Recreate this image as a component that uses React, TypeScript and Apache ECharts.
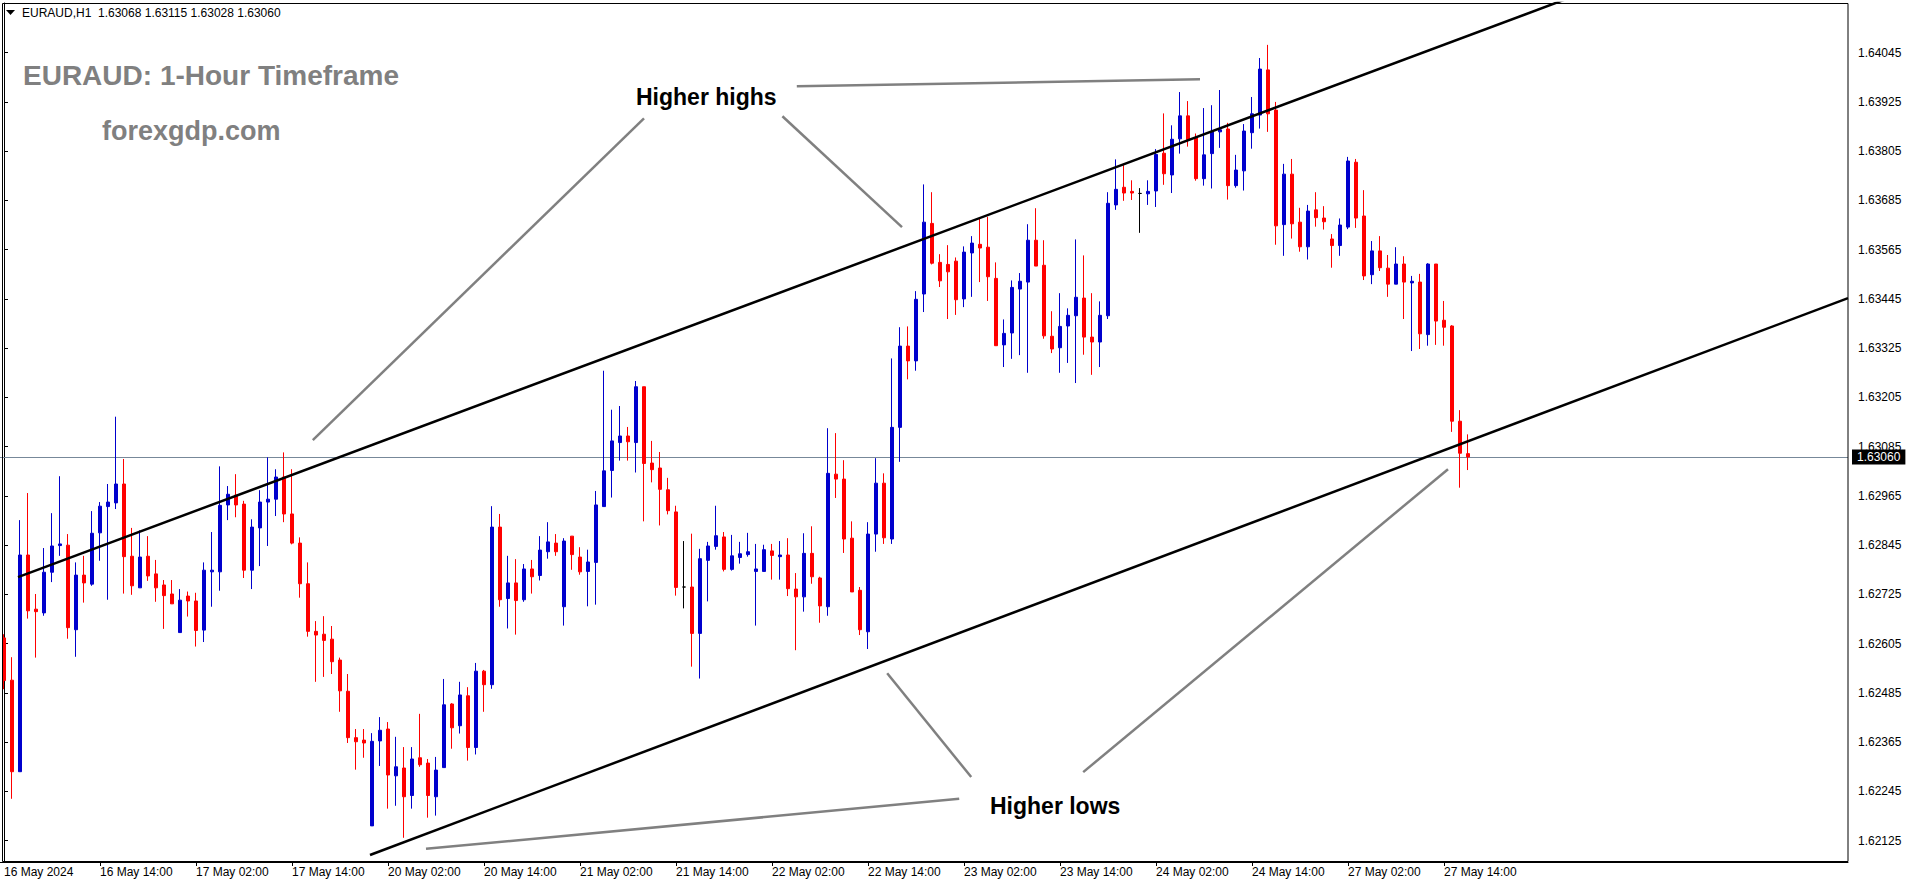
import React, { useEffect, useRef } from "react";
import * as echarts from "echarts";

// EURAUD H1 candles, 16 May 2024 02:00 .. 27 May 2024 17:00
const opens = [
  1.62619, 1.62516, 1.62293, 1.62821, 1.62689, 1.6268, 1.62779, 1.62844, 1.62845, 1.62639,
  1.62772, 1.6275, 1.62875, 1.62939, 1.62948, 1.62994, 1.62818, 1.62741, 1.62818, 1.62775,
  1.62748, 1.62726, 1.62632, 1.62721, 1.62709, 1.62638, 1.6278, 1.6278, 1.62943, 1.62967,
  1.62945, 1.62784, 1.62887, 1.6295, 1.62957, 1.63011, 1.62921, 1.6285, 1.62751, 1.62635,
  1.62628, 1.62616, 1.62565, 1.62489, 1.62376, 1.6237, 1.62161, 1.62368, 1.62397, 1.62283,
  1.62302, 1.62235, 1.62327, 1.62314, 1.62232, 1.62303, 1.62458, 1.62405, 1.62478, 1.62352,
  1.62538, 1.62505, 1.62889, 1.62715, 1.62753, 1.62712, 1.62787, 1.62771, 1.62829, 1.6285,
  1.62695, 1.62867, 1.62816, 1.62781, 1.62803, 1.62939, 1.63027, 1.63095, 1.63111, 1.63095,
  1.63231, 1.63045, 1.63033, 1.6298, 1.62926, 1.62743, 1.62743, 1.6263, 1.62808, 1.62842,
  1.62865, 1.62786, 1.62815, 1.62822, 1.62781, 1.62781, 1.62831, 1.62817, 1.62821, 1.62738,
  1.62719, 1.62825, 1.62765, 1.62695, 1.63018, 1.63006, 1.62862, 1.62735, 1.62634, 1.62872,
  1.62996, 1.6286, 1.63132, 1.6333, 1.63294, 1.63457, 1.63629, 1.63534, 1.63529, 1.63537,
  1.63445, 1.63557, 1.63578, 1.63571, 1.63495, 1.63333, 1.63362, 1.63469, 1.63486, 1.63588,
  1.63527, 1.63354, 1.63326, 1.63379, 1.63404, 1.63447, 1.63352, 1.6334, 1.63404, 1.63674,
  1.63717, 1.63707, 1.63702, 1.63701, 1.63708, 1.638, 1.63747, 1.63835, 1.63891, 1.63838,
  1.63738, 1.63799, 1.63852, 1.63859, 1.63721, 1.63757, 1.6385, 1.63893, 1.64003, 1.63905,
  1.63626, 1.63749, 1.63632, 1.63572, 1.63662, 1.63642, 1.63591, 1.63575, 1.6362, 1.63778,
  1.63647, 1.63504, 1.63562, 1.6352, 1.63481, 1.6353, 1.63484, 1.63486, 1.63358, 1.6353,
  1.63393, 1.63379, 1.63147, 1.63068,
];
const highs = [
  1.62628, 1.62572, 1.62906, 1.62972, 1.62726, 1.62838, 1.62923, 1.63013, 1.62872, 1.62803,
  1.62819, 1.62928, 1.6295, 1.62994, 1.63158, 1.63055, 1.62887, 1.62881, 1.62867, 1.62809,
  1.6276, 1.6276, 1.62738, 1.62732, 1.62729, 1.62803, 1.62877, 1.63037, 1.62989, 1.63018,
  1.62953, 1.62908, 1.62979, 1.63059, 1.6303, 1.63071, 1.6303, 1.62864, 1.62803, 1.6266,
  1.62672, 1.62648, 1.62571, 1.62531, 1.62397, 1.62397, 1.62387, 1.62426, 1.62414, 1.62378,
  1.62353, 1.62353, 1.62434, 1.62324, 1.62329, 1.62519, 1.6246, 1.62512, 1.62499, 1.62558,
  1.62541, 1.6294, 1.62921, 1.62819, 1.62811, 1.62799, 1.62809, 1.62867, 1.62901, 1.62872,
  1.62862, 1.62867, 1.6284, 1.62834, 1.62977, 1.6327, 1.63175, 1.63184, 1.63133, 1.63245,
  1.63231, 1.63099, 1.63072, 1.63009, 1.62941, 1.62855, 1.62873, 1.62836, 1.62853, 1.62941,
  1.62877, 1.6287, 1.62853, 1.62875, 1.62848, 1.62846, 1.62848, 1.62855, 1.62862, 1.62777,
  1.62874, 1.62891, 1.62768, 1.6313, 1.63118, 1.63052, 1.62903, 1.62743, 1.62901, 1.63057,
  1.6302, 1.633, 1.63376, 1.63378, 1.63464, 1.63724, 1.63705, 1.63554, 1.63576, 1.63546,
  1.63573, 1.63598, 1.63641, 1.63645, 1.63534, 1.63395, 1.6349, 1.63508, 1.63627, 1.63666,
  1.63588, 1.63415, 1.63459, 1.63422, 1.6359, 1.63551, 1.63459, 1.63439, 1.63705, 1.63785,
  1.63771, 1.63734, 1.63715, 1.63734, 1.6381, 1.63897, 1.63868, 1.63949, 1.63927, 1.63848,
  1.6391, 1.63917, 1.63954, 1.63874, 1.63796, 1.63871, 1.63937, 1.64032, 1.64064, 1.63925,
  1.63774, 1.63786, 1.63667, 1.63674, 1.63705, 1.63671, 1.63603, 1.63641, 1.63791, 1.63786,
  1.6371, 1.63586, 1.63598, 1.63552, 1.63571, 1.63549, 1.63501, 1.63506, 1.63532, 1.6353,
  1.6344, 1.63381, 1.63174, 1.63115,
];
const lows = [
  1.62494, 1.62227, 1.62293, 1.62666, 1.62571, 1.62673, 1.62755, 1.62819, 1.62617, 1.62573,
  1.62705, 1.62746, 1.62807, 1.62712, 1.62933, 1.62727, 1.62724, 1.62741, 1.62758, 1.62707,
  1.62641, 1.62702, 1.62632, 1.62671, 1.62598, 1.62609, 1.62695, 1.62734, 1.62906, 1.62913,
  1.62765, 1.62738, 1.62794, 1.62843, 1.62916, 1.62901, 1.62847, 1.62717, 1.62622, 1.62512,
  1.62524, 1.62531, 1.62439, 1.62363, 1.62298, 1.62327, 1.62161, 1.62307, 1.62203, 1.6221,
  1.62132, 1.62203, 1.62305, 1.62181, 1.62186, 1.62303, 1.62349, 1.62386, 1.6232, 1.62335,
  1.62439, 1.62495, 1.62695, 1.62642, 1.62627, 1.62707, 1.62727, 1.62759, 1.62812, 1.62819,
  1.62649, 1.62785, 1.62773, 1.62696, 1.627, 1.62939, 1.62961, 1.63051, 1.63051, 1.63022,
  1.62903, 1.62998, 1.62893, 1.6292, 1.62722, 1.62691, 1.62549, 1.6252, 1.62708, 1.62834,
  1.62781, 1.62783, 1.628, 1.62817, 1.62649, 1.62781, 1.62761, 1.62761, 1.62721, 1.62589,
  1.62683, 1.62751, 1.62656, 1.62673, 1.6296, 1.62826, 1.62731, 1.62626, 1.62592, 1.62829,
  1.62848, 1.62848, 1.63048, 1.63249, 1.6327, 1.63413, 1.63529, 1.63474, 1.63396, 1.63406,
  1.63425, 1.6345, 1.63486, 1.6344, 1.63331, 1.63279, 1.63299, 1.63308, 1.63265, 1.63525,
  1.63348, 1.63313, 1.63265, 1.63289, 1.6324, 1.63309, 1.6326, 1.63279, 1.63396, 1.63662,
  1.63684, 1.63686, 1.63606, 1.63674, 1.63669, 1.63723, 1.63703, 1.63799, 1.63816, 1.63733,
  1.63721, 1.63714, 1.63813, 1.63687, 1.63716, 1.63709, 1.63811, 1.6386, 1.63852, 1.63577,
  1.6355, 1.63592, 1.6356, 1.63541, 1.63621, 1.63614, 1.63521, 1.6355, 1.63615, 1.63618,
  1.63491, 1.63481, 1.63513, 1.6345, 1.63481, 1.63396, 1.63318, 1.63323, 1.63331, 1.63333,
  1.63331, 1.63121, 1.62985, 1.63028,
];
const closes = [
  1.62515, 1.62293, 1.62821, 1.62685, 1.62683, 1.62779, 1.62843, 1.62848, 1.62644, 1.62772,
  1.62753, 1.62874, 1.6294, 1.6295, 1.62994, 1.62817, 1.62746, 1.62816, 1.6277, 1.62741,
  1.62722, 1.62702, 1.62711, 1.62709, 1.62637, 1.62784, 1.62784, 1.62942, 1.62969, 1.62943,
  1.62784, 1.62889, 1.6295, 1.62957, 1.63011, 1.62921, 1.6285, 1.62751, 1.62635, 1.62626,
  1.62613, 1.62561, 1.6249, 1.62376, 1.62366, 1.62363, 1.62367, 1.62394, 1.62285, 1.62305,
  1.62232, 1.62324, 1.6231, 1.62235, 1.62297, 1.62456, 1.624, 1.6248, 1.62352, 1.62538,
  1.62505, 1.62889, 1.62712, 1.62753, 1.6271, 1.62787, 1.62768, 1.62833, 1.62853, 1.62829,
  1.62855, 1.62822, 1.6278, 1.62804, 1.62943, 1.63026, 1.63099, 1.63111, 1.63097, 1.63231,
  1.63044, 1.63029, 1.62981, 1.62929, 1.62742, 1.62743, 1.6263, 1.62812, 1.62843, 1.62868,
  1.62786, 1.62819, 1.62824, 1.62829, 1.62787, 1.62834, 1.6282, 1.62821, 1.62739, 1.62719,
  1.62825, 1.62768, 1.62697, 1.6302, 1.63006, 1.6286, 1.62731, 1.62639, 1.62872, 1.62996,
  1.62863, 1.63132, 1.6333, 1.63294, 1.63444, 1.63632, 1.63532, 1.63489, 1.63511, 1.63443,
  1.63559, 1.63581, 1.63569, 1.63499, 1.63331, 1.63361, 1.63473, 1.63488, 1.63588, 1.63525,
  1.63355, 1.63323, 1.63378, 1.63405, 1.63449, 1.63352, 1.6334, 1.63405, 1.63678, 1.63712,
  1.63703, 1.63703, 1.63702, 1.63707, 1.63797, 1.6375, 1.63834, 1.63891, 1.63833, 1.63738,
  1.63796, 1.63852, 1.63857, 1.63721, 1.63759, 1.63854, 1.63896, 1.64005, 1.63896, 1.63623,
  1.63749, 1.63628, 1.63572, 1.63659, 1.63643, 1.63633, 1.63575, 1.63625, 1.63781, 1.63642,
  1.63501, 1.63562, 1.63521, 1.63481, 1.6353, 1.63486, 1.63488, 1.6336, 1.6353, 1.63391,
  1.63376, 1.63147, 1.63069, 1.6306,
];

const xTickLabels = [
  "16 May 2024", "16 May 14:00", "17 May 02:00", "17 May 14:00", "20 May 02:00",
  "20 May 14:00", "21 May 02:00", "21 May 14:00", "22 May 02:00", "22 May 14:00",
  "23 May 02:00", "23 May 14:00", "24 May 02:00", "24 May 14:00", "27 May 02:00",
  "27 May 14:00",
];
const yTickValues = [
  1.62125, 1.62245, 1.62365, 1.62485, 1.62605, 1.62725, 1.62845, 1.62965, 1.63085,
  1.63205, 1.63325, 1.63445, 1.63565, 1.63685, 1.63805, 1.63925, 1.64045,
];
const currentPrice = 1.6306;
const headerText = "EURAUD,H1  1.63068 1.63115 1.63028 1.63060";

// channel lines: [bar index, price]
const upperChannel = [[1.75, 1.62767], [200, 1.6421]];
const lowerChannel = [[45.75, 1.6209], [230.5, 1.63447]];
// pointer lines from the annotations: [bar index, price]
const pointerLines = [
  [[99.1, 1.63963], [149.5, 1.6398]],
  [[80, 1.63885], [38.6, 1.63101]],
  [[97.3, 1.6389], [112.25, 1.6362]],
  [[120.9, 1.6228], [110.4, 1.62533]],
  [[134.9, 1.62292], [180.5, 1.6303]],
  [[119.4, 1.62227], [52.75, 1.62105]],
];

const SLOTS = 231;

export default function App() {
  const ref = useRef<HTMLDivElement>(null);
  useEffect(() => {
    const chart = echarts.init(ref.current!, null, { renderer: "svg" });
    const cats = Array.from({ length: SLOTS }, (_, i) => String(i));
    const candles = opens.map((o, i) => [o, closes[i], lows[i], highs[i]]);
    const font = "Liberation Sans";
    const tickShow = (index: number) => index % 12 === 0 && index > 0 && index <= 180;
    const labelShow = (index: number) => index % 12 === 0 && index <= 180;

    const option: any = {
      animation: false,
      backgroundColor: "#ffffff",
      grid: { left: 0, right: 68, top: 3, bottom: 22, containLabel: false },
      xAxis: [
        {
          type: "category",
          data: cats,
          boundaryGap: true,
          axisLine: { show: true, lineStyle: { color: "#000", width: 1 } },
          axisTick: {
            show: true,
            interval: (i: number) => tickShow(i),
            alignWithLabel: true,
            length: 4,
            lineStyle: { color: "#000" },
          },
          axisLabel: {
            show: true,
            interval: (i: number) => labelShow(i),
            formatter: (v: string) => {
              const i = Number(v);
              return i % 12 === 0 && xTickLabels[i / 12] ? xTickLabels[i / 12] : "";
            },
            align: "left",
            margin: 4,
            color: "#000",
            fontSize: 12,
            fontFamily: font,
          },
          splitLine: { show: false },
        },
        {
          type: "value",
          min: -0.5,
          max: SLOTS - 0.5,
          show: false,
          splitLine: { show: false },
        },
      ],
      yAxis: {
        type: "value",
        position: "right",
        min: 1.62073,
        max: 1.64166,
        scale: true,
        axisLine: { show: true, lineStyle: { color: "#000", width: 1 } },
        axisTick: {
          show: true,
          customValues: yTickValues,
          length: 4,
          lineStyle: { color: "#000" },
        },
        axisLabel: {
          show: true,
          customValues: yTickValues,
          formatter: (v: number) => v.toFixed(5),
          margin: 10,
          color: "#000",
          fontSize: 12,
          fontFamily: font,
        },
        splitLine: { show: false },
      },
      series: [
        {
          type: "candlestick",
          xAxisIndex: 0,
          data: candles,
          barWidth: 4,
          z: 3,
          itemStyle: {
            color: "#0000CD",
            color0: "#FF0000",
            borderColor: "#0000CD",
            borderColor0: "#FF0000",
            borderColorDoji: "#000000",
            borderWidth: 1,
          },
          markLine: {
            silent: true,
            symbol: "none",
            precision: 5,
            z: 2,
            data: [{ yAxis: currentPrice }],
            lineStyle: { color: "#778899", width: 1, type: "solid" },
            label: {
              show: true,
              position: "end",
              distance: 4,
              formatter: currentPrice.toFixed(5),
              backgroundColor: "#000",
              color: "#fff",
              padding: [2, 5, 1, 5],
              fontSize: 12,
              fontFamily: font,
            },
          },
        },
        {
          type: "line",
          xAxisIndex: 1,
          data: upperChannel,
          symbol: "none",
          clip: true,
          z: 5,
          silent: true,
          lineStyle: { color: "#000", width: 2.5 },
        },
        {
          type: "line",
          xAxisIndex: 1,
          data: lowerChannel,
          symbol: "none",
          clip: true,
          z: 5,
          silent: true,
          lineStyle: { color: "#000", width: 2.5 },
        },
        ...pointerLines.map((seg) => ({
          type: "line",
          xAxisIndex: 1,
          data: seg,
          symbol: "none",
          clip: true,
          z: 5,
          silent: true,
          lineStyle: { color: "#808080", width: 2.5 },
        })),
      ],
      graphic: [
        {
          type: "rect",
          silent: true,
          z: 10,
          shape: { x: 2.5, y: 3.5, width: 1845.5, height: 858 },
          style: { fill: "none", stroke: "#000", lineWidth: 1 },
        },
        {
          type: "polygon",
          silent: true,
          z: 10,
          shape: { points: [[6, 10], [15, 10], [10.5, 15]] },
          style: { fill: "#000" },
        },
        {
          type: "text",
          silent: true,
          z: 10,
          x: 22,
          y: 13,
          style: {
            text: headerText,
            fill: "#000",
            font: `12px "${font}"`,
            textAlign: "left",
            textVerticalAlign: "middle",
          },
        },
        {
          type: "text",
          silent: true,
          z: 10,
          x: 23,
          y: 75,
          style: {
            text: "EURAUD: 1-Hour Timeframe",
            fill: "#808080",
            font: `bold 28px "${font}"`,
            textAlign: "left",
            textVerticalAlign: "middle",
          },
        },
        {
          type: "text",
          silent: true,
          z: 10,
          x: 102,
          y: 131,
          style: {
            text: "forexgdp.com",
            fill: "#808080",
            font: `bold 27px "${font}"`,
            textAlign: "left",
            textVerticalAlign: "middle",
          },
        },
        {
          type: "text",
          silent: true,
          z: 10,
          x: 636,
          y: 97,
          style: {
            text: "Higher highs",
            fill: "#000",
            font: `bold 23px "${font}"`,
            textAlign: "left",
            textVerticalAlign: "middle",
          },
        },
        {
          type: "text",
          silent: true,
          z: 10,
          x: 990,
          y: 806,
          style: {
            text: "Higher lows",
            fill: "#000",
            font: `bold 23px "${font}"`,
            textAlign: "left",
            textVerticalAlign: "middle",
          },
        },
      ],
    };
    chart.setOption(option);
    return () => chart.dispose();
  }, []);
  return (
    <div
      ref={ref}
      style={{ position: "fixed", left: 0, top: 0, width: 1916, height: 884, background: "#fff" }}
    />
  );
}
